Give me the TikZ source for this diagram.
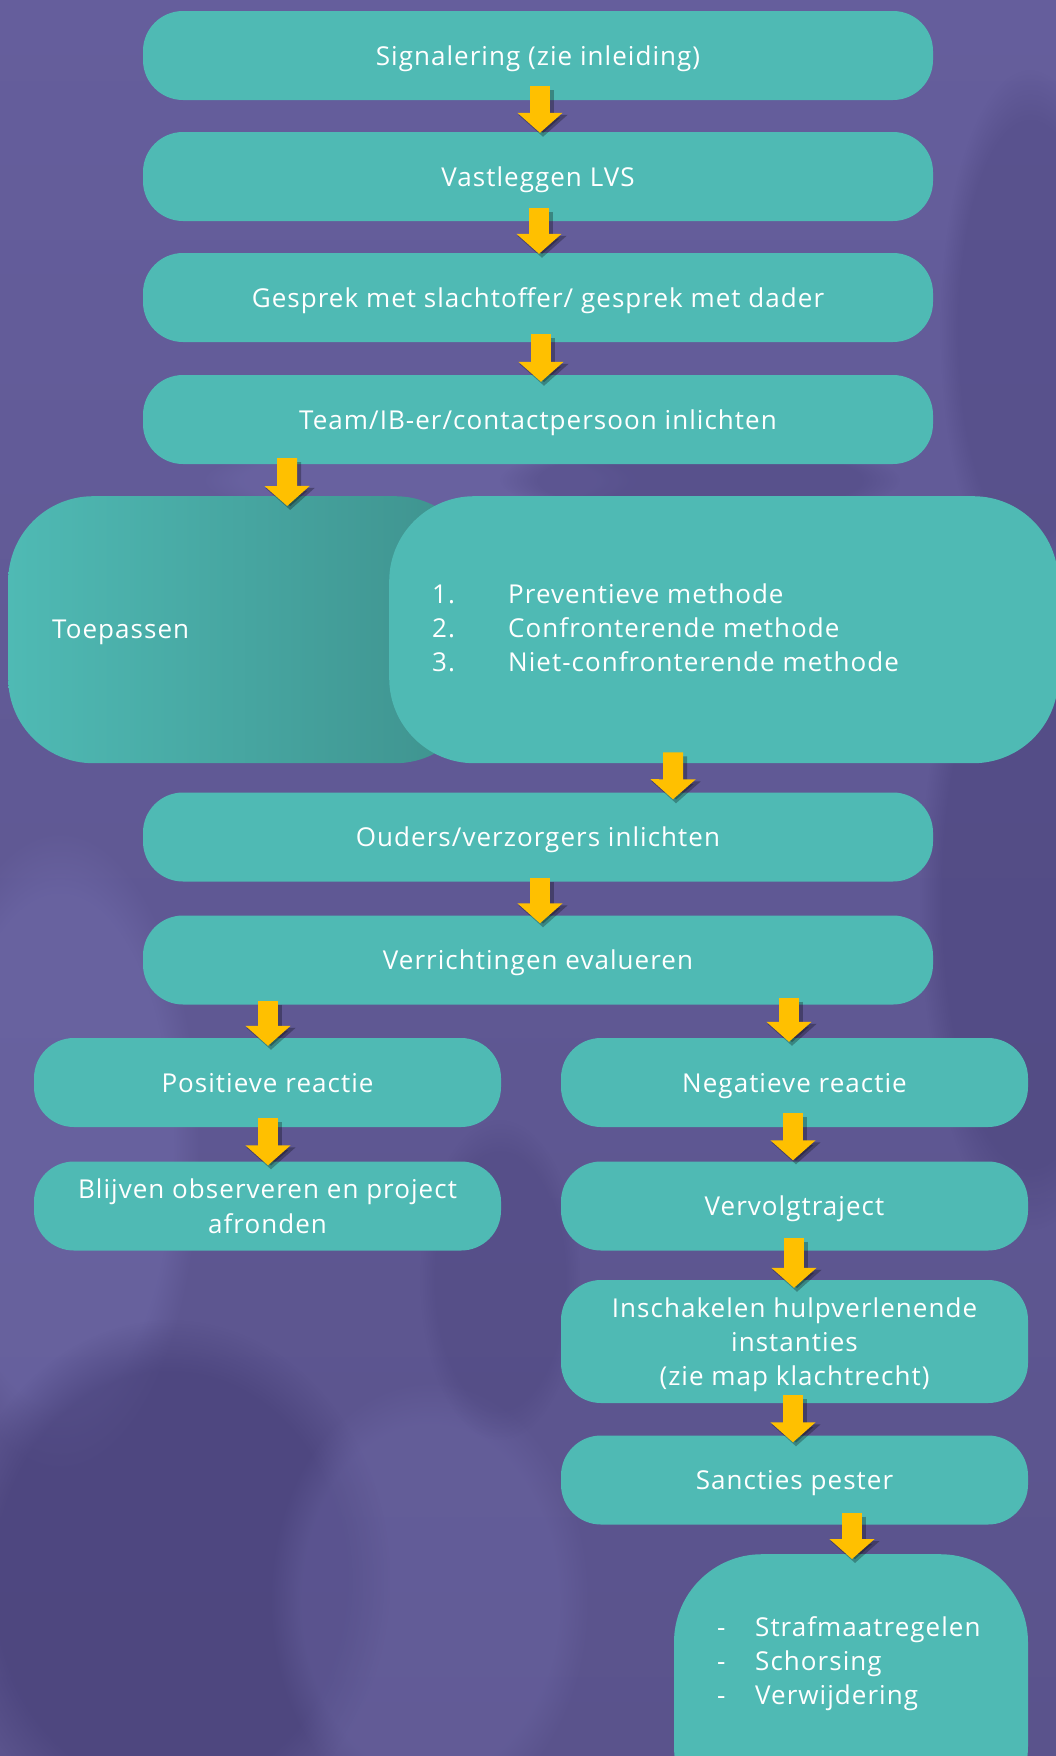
\documentclass[tikz,border=0pt]{standalone}
\usepackage{fontspec}
\setmainfont[LetterSpace=4]{Open Sans}
\usetikzlibrary{arrows.meta,calc,fadings}
\definecolor{bgtop}{HTML}{655E9C}
\definecolor{bgbot}{HTML}{5A538C}
\definecolor{bgdark}{HTML}{463F77}
\definecolor{bglight}{HTML}{716CAB}
\definecolor{teal1}{HTML}{4FBAB4}
\definecolor{teal2}{HTML}{3E918D}
\definecolor{gold}{HTML}{FFC000}
\tikzset{
  box/.style={fill=teal1, rounded corners=40pt, text=white, align=center,
    minimum height=89pt, inner sep=0pt},
  one/.style={text height=25pt, text depth=6pt},
  wide/.style={minimum width=790pt, one},
  half/.style={minimum width=467pt},
  yarr/.style={draw=gold, line width=20pt, -{Triangle[width=44pt,length=20pt]}},
  sarr/.style={draw=black, opacity=0.28, line width=22pt, -{Triangle[width=48pt,length=22pt]}},
  txt/.style={text=white, inner sep=0pt},
  blob/.style={path fading=circle with fuzzy edge 20 percent}
}
\newcommand\yellowarrow[2]{%
  \draw[sarr] ([shift={(3,4)}]#1) -- ([shift={(3,4)}]#2);
  \draw[yarr] (#1) -- (#2);}
\begin{document}
\begin{tikzpicture}[x=1pt,y=-1pt,font=\fontsize{26}{34}\selectfont]
\useasboundingbox (0,0) rectangle (1056,1756);
\clip (0,0) rectangle (1056,1756);
% background
\shade[top color=bgtop, bottom color=bgbot] (0,0) rectangle (1056,1756);
\fill[bglight, opacity=0.5, blob] (60,1150) ellipse (140 and 320);
\fill[bgdark, opacity=0.6, blob] (170,1580) ellipse (220 and 260);
\fill[bglight, opacity=0.35, blob] (430,1600) ellipse (160 and 220);
\fill[bgdark, opacity=0.45, blob] (1030,900) ellipse (110 and 330);
\fill[bgdark, opacity=0.35, blob] (1030,330) ellipse (90 and 260);
\fill[bglight, opacity=0.4, blob] (420,480) ellipse (220 and 40);
\fill[bgdark, opacity=0.35, blob] (700,480) ellipse (200 and 40);
\fill[bgdark, opacity=0.3, blob] (500,1280) ellipse (80 and 160);

% main column
\node[box,wide] (b1) at (538,55.5) {Signalering (zie inleiding)};
\node[box,wide] (b2) at (538,176.5) {Vastleggen LVS};
\node[box,wide] (b3) at (538,297.5) {Gesprek met slachtoffer/ gesprek met dader};
\node[box,wide] (b4) at (538,419.5) {Team/IB-er/contactpersoon inlichten};

% Toepassen block
\node[rounded corners=85pt, left color=teal1, right color=teal2, minimum width=472pt,
  minimum height=267pt, inner sep=0pt, anchor=north west] (tpl) at (8,496) {};
\node[box, rounded corners=85pt, minimum width=669pt, minimum height=267pt,
  anchor=north west] (tpr) at (389,496) {};
\node[txt, anchor=west] (tpt) at (52,632) {Toepassen};
\node[txt, anchor=west] (tpl1) at (432,631)
  {\begin{tabular}{@{}p{76pt}@{}l@{}}
   1. & Preventieve methode\\
   2. & Confronterende methode\\
   3. & Niet-confronterende methode
   \end{tabular}};

\node[box,wide] (b5) at (538,837) {Ouders/verzorgers inlichten};
\node[box,wide] (b6) at (538,960) {Verrichtingen evalueren};

% two columns
\node[box,half,one] (pos) at (267.5,1082.5) {Positieve reactie};
\node[box,half,one] (neg) at (794.5,1082.5) {Negatieve reactie};
\node[box,half, font=\fontsize{26}{35}\selectfont] (bl) at (267.5,1206) {Blijven observeren en project\\afronden};
\node[box,half,one] (vv) at (794.5,1206) {Vervolgtraject};
\node[box,half, minimum height=123pt] (ins) at (794.5,1341.5) {};
\node[txt, align=center] (inst) at (794.5,1344.5)
  {Inschakelen hulpverlenende\\instanties\\(zie map klachtrecht)};
\node[box,half,one] (san) at (794.5,1480) {Sancties pester};
\node[box, rounded corners=88pt, minimum width=354pt, minimum height=280pt, anchor=north] (lst) at (851,1554) {};
\node[txt, anchor=west] (lstt) at (717,1664)
  {\begin{tabular}{@{}p{38pt}@{}l@{}}
   - & Strafmaatregelen\\
   - & Schorsing\\
   - & Verwijdering
   \end{tabular}};

% arrows
\yellowarrow{$(b1.south)+(2,-14)$}{$(b2.north)+(2,1)$}
\yellowarrow{$(b2.south)+(1,-13)$}{$(b3.north)+(1,1)$}
\yellowarrow{$(b3.south)+(3,-8)$}{$(b4.north)+(3,7)$}
\yellowarrow{$(b4.south)+(-251,-6)$}{$(tpl.north)+(43,10)$}
\yellowarrow{$(tpr.south)+(-50.5,-11)$}{$(b5.north)+(135,7)$}
\yellowarrow{$(b5.south)+(2,-4)$}{$(b6.north)+(2,8)$}
\yellowarrow{$(b6.south)+(-270,-4)$}{$(pos.north)+(0.5,8)$}
\yellowarrow{$(b6.south)+(251,-7)$}{$(neg.north)+(-5.5,4)$}
\yellowarrow{$(pos.south)+(0.5,-9)$}{$(bl.north)+(0.5,4)$}
\yellowarrow{$(neg.south)+(-1.5,-14)$}{$(vv.north)+(-1.5,-1)$}
\yellowarrow{$(vv.south)+(-0.5,-13)$}{$(ins.north)+(-0.5,8)$}
\yellowarrow{$(ins.south)+(-1.5,-8)$}{$(san.north)+(-1.5,7)$}
\yellowarrow{$(san.south)+(57.5,-12)$}{$(lst.north)+(1,5)$}
\end{tikzpicture}
\end{document}
